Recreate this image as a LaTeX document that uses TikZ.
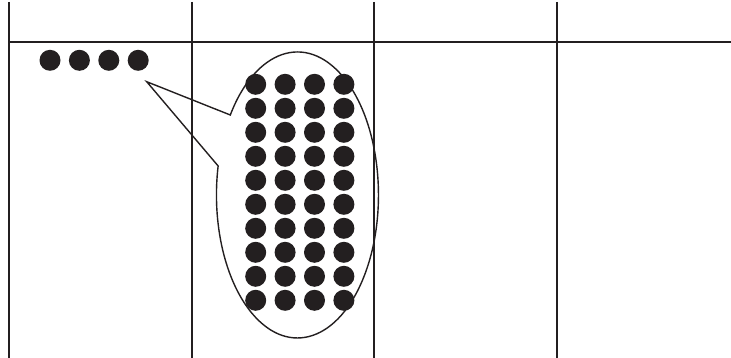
\documentclass[tikz,border=0pt]{standalone}
\usepackage{xcolor}
\usepackage{tikz}
\definecolor{ink}{HTML}{231F20}

\tikzset{
  dot/.style={circle, fill=ink, draw=none, minimum size=21pt, inner sep=0pt},
  rule/.style={draw=ink, line width=2pt},
  bubble/.style={draw=ink, line width=1.4pt, line join=miter}
}

\begin{document}
\begin{tikzpicture}[x=1pt,y=-1pt]
\useasboundingbox (0,0) rectangle (731,358);
% table lines
\foreach \x in {9,191.5,374,557}
  \draw[rule] (\x,2) -- (\x,358);
\draw[rule] (8,42) -- (731,42);
% the four dots
\foreach \i in {1,...,4}
  \node[dot] (top\i) at ({50+29.4*(\i-1)},60.3) {};
% callout round the big group
\coordinate (tip) at (146.7,81.7);
\draw[bubble] (tip) -- (230.3,115)
  arc[start angle=214, end angle=551.7, x radius=81, y radius=143] -- cycle;
% the big group of dots
\foreach \r in {1,...,10}
  \foreach \c in {1,...,4}
    \node[dot] (g\r-\c) at ({255.7+29.4*(\c-1)},{84.3+24*(\r-1)}) {};
\end{tikzpicture}
\end{document}
